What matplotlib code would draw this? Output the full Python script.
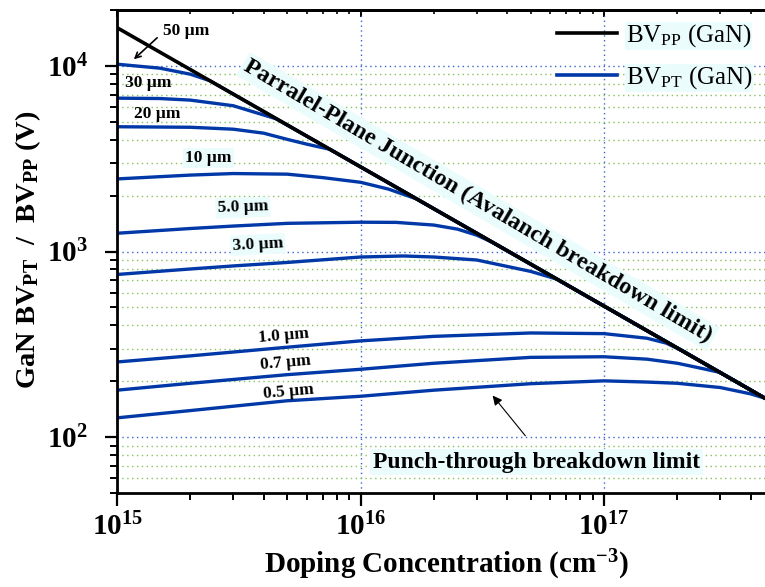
import numpy as np
import matplotlib
matplotlib.use('Agg')
import matplotlib.pyplot as plt
from matplotlib.ticker import FuncFormatter, LogLocator, NullFormatter

plt.rcParams['font.family'] = 'Liberation Serif'
plt.rcParams['mathtext.fontset'] = 'custom'
plt.rcParams['mathtext.rm'] = 'Liberation Serif'
plt.rcParams['mathtext.bf'] = 'Liberation Serif:bold'
plt.rcParams['mathtext.it'] = 'Liberation Serif:italic'

# parallel-plane (avalanche) breakdown of GaN
N_pp = [1e15, 1e16, 1e17, 4.58e17]
bv_pp = [16070, 2858, 508, 162]

# punch-through breakdown for each drift-layer thickness, up to where it joins BV_PP
thick = ['50', '30', '20', '10', '5.0', '3.0', '1.0', '0.7', '0.5']
N_pt = [
    [1e15, 1.5e15, 2e15, 2.4e15],
    [1e15, 1.5e15, 2e15, 3e15, 3.7e15, 4.5e15],
    [1e15, 2e15, 3e15, 4e15, 5e15, 6e15, 7.5e15],
    [1e15, 1.5e15, 2e15, 3e15, 5e15, 7e15, 1e16, 1.3e16, 1.7e16],
    [1e15, 2e15, 3e15, 5e15, 1e16, 1.4e16, 2e16, 2.5e16, 3e16, 3.5e16],
    [1e15, 2e15, 3e15, 5e15, 1e16, 1.5e16, 2e16, 3e16, 4e16, 5e16, 6.4e16],
    [1e15, 2e15, 5e15, 1e16, 2e16, 5e16, 1e17, 1.5e17, 1.8e17, 2.1e17],
    [1e15, 2e15, 5e15, 1e16, 2e16, 5e16, 1e17, 1.5e17, 2e17, 2.5e17, 3e17],
    [1e15, 2e15, 5e15, 1e16, 2e16, 5e16, 1e17, 1.5e17, 2e17, 3e17, 4e17, 4.58e17],
]
bv_pt = [
    [10210, 9720, 9020, 8330],
    [6700, 6670, 6540, 6100, 5610, 5190],
    [4700, 4670, 4560, 4340, 4020, 3790, 3550],
    [2460, 2530, 2580, 2630, 2610, 2500, 2360, 2170, 1920],
    [1254, 1330, 1371, 1418, 1438, 1435, 1388, 1320, 1225, 1117],
    [752, 805, 836, 873, 934, 946, 934, 900, 831, 781, 710],
    [254, 274, 305, 330, 349, 364, 361, 341, 321, 292],
    [179, 195, 217, 232, 250, 269, 271, 263, 250, 235, 223],
    [127, 139, 157, 166, 179, 194, 201, 198, 195, 185, 171, 162],
]

# label positions (N, V) and tilt
lab_pos = [(1.92e15, 15400), (1.34e15, 8100), (1.46e15, 5520), (2.37e15, 3200),
           (3.29e15, 1724), (3.79e15, 1090), (4.85e15, 353), (4.94e15, 250), (5.08e15, 175)]
lab_rot = [0, 0, 0, 0, 2, 3, 5, 5, 5]
lab_box = [False, False, False, True, True, True, False, False, False]

blue = '#0038a8'
cyan = '#eafcfc'

fig = plt.figure(figsize=(7.65, 5.87), dpi=100)
ax = fig.add_axes([117/765, 1-493/587, 648/765, 483/587])
ax.set_xscale('log')
ax.set_yscale('log')

for n, v in zip(N_pt, bv_pt):
    # once joined, the curve runs along the avalanche line
    tail = [(a, b) for a, b in zip(N_pp, bv_pp) if a > n[-1]]
    xs = list(n) + [a for a, b in tail]
    ys = list(v) + [b for a, b in tail]
    ax.plot(xs, ys, color=blue, lw=2.4, solid_capstyle='butt', solid_joinstyle='round')

ax.plot(N_pp, bv_pp, color='black', lw=2.6)

ax.set_xlim(1e15, 4.58e17)
ax.set_ylim(50, 2e4)

ax.grid(which='major', axis='both', color='#3a62d0', ls=(0, (1, 2.5)), lw=1)
ax.grid(which='minor', axis='y', color='#86c25a', ls=(0, (1, 2.5)), lw=1)

fmt = FuncFormatter(lambda v, p: r'$\mathbf{10^{%d}}$' % round(np.log10(v)))
ax.xaxis.set_major_formatter(fmt)
ax.yaxis.set_major_formatter(fmt)
ax.xaxis.set_minor_formatter(NullFormatter())
ax.yaxis.set_minor_formatter(NullFormatter())
ax.yaxis.set_minor_locator(LogLocator(base=10, subs=np.arange(2, 10), numticks=20))
ax.tick_params(which='major', direction='out', length=9, width=1.6, labelsize=21)
ax.tick_params(which='minor', direction='out', length=5, width=1.4)
ax.tick_params(axis='x', which='major', pad=5)
ax.tick_params(axis='y', which='major', pad=12)

top = ax.secondary_xaxis('top')
top.tick_params(which='major', direction='in', length=5, width=1.4, labeltop=False)
top.tick_params(which='minor', direction='in', length=3, width=1.2)
top.xaxis.set_major_formatter(NullFormatter())
top.spines['top'].set_linewidth(2)

for s in ['left', 'bottom', 'top']:
    ax.spines[s].set_linewidth(2)
ax.spines['right'].set_visible(False)

for t, (x, y), r, b in zip(thick, lab_pos, lab_rot, lab_box):
    bb = dict(facecolor=cyan, edgecolor='none', pad=1.5) if b else None
    ax.text(x, y, t + ' µm', fontsize=12.5, fontweight='bold', ha='center', va='center',
            rotation=r, bbox=bb)

ax.annotate('', xy=(1.15e15, 10600), xytext=(1.49e15, 14500),
            arrowprops=dict(arrowstyle='->', color='black', lw=1.2))

ax.text(3.04e16, 1860, 'Parralel-Plane Junction (Avalanch breakdown limit)', fontsize=17.3,
        fontweight='bold', rotation=-30.4, rotation_mode='anchor', ha='center', va='center',
        bbox=dict(facecolor=cyan, edgecolor='none', pad=2))

ax.text(5.26e16, 73.4, 'Punch-through breakdown limit', fontsize=17,
        fontweight='bold', ha='center', va='center',
        bbox=dict(facecolor=cyan, edgecolor='none', pad=2))
ax.annotate('', xy=(3.43e16, 172), xytext=(4.83e16, 99),
            arrowprops=dict(arrowstyle='-|>', color='black', lw=0.8, mutation_scale=14))

leg = ax.legend(handles=[plt.Line2D([], [], color='black', lw=2.6),
                         plt.Line2D([], [], color=blue, lw=2.6)],
                labels=[r'BV$_{\mathrm{PP}}$ (GaN)', r'BV$_{\mathrm{PT}}$ (GaN)'],
                loc='upper right', bbox_to_anchor=(1.0, 1.0), frameon=False, fontsize=18,
                handlelength=2.4, handletextpad=0.35, labelspacing=0.6, borderaxespad=0.1)
for t in leg.get_texts():
    t.set_bbox(dict(facecolor=cyan, edgecolor='none', pad=0.5))

fig.text(446/765, 1-565/587, r'Doping Concentration (cm$^{\mathbf{-3}}$)', fontsize=21,
         fontweight='bold', ha='center', va='center')
fig.text(28/765, 1-250/587, r'GaN BV$_{\mathbf{PT}}$  /  BV$_{\mathbf{PP}}$ (V)', fontsize=20.5,
         fontweight='bold', ha='center', va='center', rotation=90)

fig.savefig('out.png', dpi=100)
